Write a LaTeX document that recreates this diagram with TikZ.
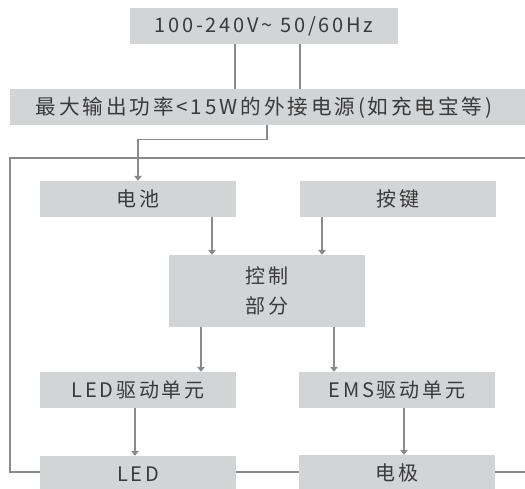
\documentclass[tikz,border=0pt]{standalone}
\usepackage{fontspec}
\setmainfont{Noto Sans CJK SC}
\newfontfamily\cjkB[LetterSpace=14]{Noto Sans CJK SC}
\usetikzlibrary{arrows.meta}
\definecolor{boxfill}{HTML}{D3D4D6}
\definecolor{linec}{HTML}{8A8A8A}
\definecolor{txtc}{HTML}{3A3A3A}
\tikzset{
  box/.style={rectangle, fill=boxfill, draw=none, inner sep=0pt, text=txtc,
    minimum height=36pt, minimum width=196pt, font=\cjkB\fontsize{20pt}{23pt}\selectfont, align=center},
  txt/.style={inner sep=0pt, text=txtc, font=\cjkB\fontsize{20.6pt}{23pt}\selectfont},
  conn/.style={draw=linec, line width=1.4pt},
  arr/.style={conn, -{Triangle[width=7.5pt,length=5pt]}},
  thickconn/.style={draw=linec, line width=2.6pt}
}
\begin{document}
\begin{tikzpicture}[x=1pt,y=-1pt]
\useasboundingbox (0,0) rectangle (525,488);
% nodes
\node[box, minimum width=268pt] (ac) at (264,26) {100-240V\char"007E{} 50/60Hz};
\node[box, minimum width=530pt] (ext) at (275,107) {};
\node[txt] (extt) at (264,108) {最大输出功率<15W的外接电源(如充电宝等)};
\node[box] (bat) at (138,199) {电池};
\node[box] (key) at (398,199) {按键};
\node[box, minimum height=72pt, font=\cjkB\fontsize{20pt}{30pt}\selectfont] (ctrl) at (267,291) {控制\\部分};
\node[box] (ledd) at (138,390) {LED驱动单元};
\node[box] (emsd) at (397,390) {EMS驱动单元};
\node[box] (led) at (138,474) {LED};
\node[box] (elec) at (397,473) {电极};
% helper coordinates
\coordinate (xa) at (235,0);
\coordinate (xb) at (300,0);
\coordinate (xe) at (267,0);
\coordinate (xc) at (212,0);
\coordinate (xd) at (322,0);
\coordinate (xf) at (201,0);
\coordinate (xg) at (334,0);
\coordinate (xh) at (135,0);
\coordinate (xi) at (404,0);
\coordinate (tl) at (10,158);
\coordinate (tr) at (530,158);
\coordinate (bl) at (10,472);
\coordinate (br) at (530,472);
% connectors
\draw[conn] (xa |- ac.south) -- (xa |- ext.north);
\draw[conn] (xb |- ac.south) -- (xb |- ext.north);
\draw[arr] (xe |- ext.south) -- ++(0,14) -| (bat.north);
\draw[arr] (xc |- bat.south) -- (xc |- ctrl.north);
\draw[arr] (xd |- key.south) -- (xd |- ctrl.north);
\draw[arr] (xf |- ctrl.south) -- (xf |- ledd.north);
\draw[arr] (xg |- ctrl.south) -- (xg |- emsd.north);
\draw[arr] (xh |- ledd.south) -- (xh |- led.north);
\draw[arr] (xi |- emsd.south) -- (xi |- elec.north);
\draw[conn] (led.west |- bl) -- (bl) -- (tl) -- (tr);
\draw[conn] (elec.east |- br) -- (br);
\draw[thickconn] (led.east |- bl) -- (elec.west |- bl);
\end{tikzpicture}
\end{document}
